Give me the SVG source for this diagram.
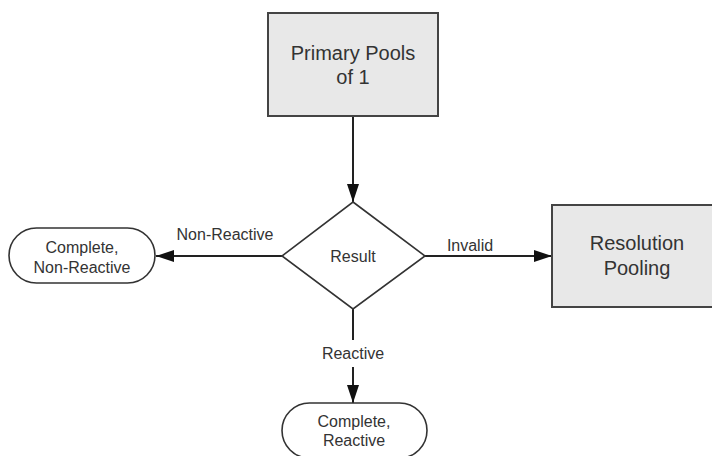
<svg xmlns="http://www.w3.org/2000/svg" width="712" height="456" viewBox="0 0 712 456">
<style>
.box{fill:#e8e8e8;stroke:#444;stroke-width:2}
.term{fill:#fff;stroke:#333;stroke-width:1.6}
.dia{fill:#fff;stroke:#333;stroke-width:1.6}
.line{stroke:#222;stroke-width:2;fill:none}
text{font-family:"Liberation Sans",Arial,sans-serif;fill:#333;text-anchor:middle}
.big{font-size:20px}
.sm{font-size:16px}
</style>
<defs>
<marker id="arr" viewBox="0 0 18 12" refX="18" refY="6" markerWidth="18" markerHeight="12" markerUnits="userSpaceOnUse" orient="auto">
<path d="M0,0 L18,6 L0,12 Z" fill="#111"/>
</marker>
</defs>
<rect width="712" height="456" fill="#fff"/>
<g id="connectors">
<line class="line" x1="353" y1="116" x2="353" y2="202" marker-end="url(#arr)"/>
<line class="line" x1="282" y1="256" x2="156" y2="256" marker-end="url(#arr)"/>
<line class="line" x1="425" y1="256" x2="552" y2="256" marker-end="url(#arr)"/>
<line class="line" x1="353" y1="309" x2="353" y2="340"/>
<line class="line" x1="353" y1="367" x2="353" y2="403" marker-end="url(#arr)"/>
<text class="sm" x="225" y="240">Non-Reactive</text>
<text class="sm" x="470" y="251">Invalid</text>
<text class="sm" x="353" y="359">Reactive</text>
</g>
<g id="primary">
<rect class="box" x="268" y="13" width="170" height="103"/>
<text class="big" x="353" y="60">Primary Pools</text>
<text class="big" x="353" y="84">of 1</text>
</g>
<g id="result">
<polygon class="dia" points="353,202 425,256 353,309 282,256"/>
<text class="sm" x="353" y="262">Result</text>
</g>
<g id="nonreactive">
<rect class="term" x="9" y="228" width="146" height="55" rx="27.5"/>
<text class="sm" x="82" y="253">Complete,</text>
<text class="sm" x="82" y="273">Non-Reactive</text>
</g>
<g id="resolution">
<rect class="box" x="552" y="205" width="170" height="102"/>
<text class="big" x="637" y="250">Resolution</text>
<text class="big" x="637" y="275">Pooling</text>
</g>
<g id="reactive">
<rect class="term" x="282" y="403" width="145" height="55" rx="27.5"/>
<text class="sm" x="354" y="427">Complete,</text>
<text class="sm" x="354" y="446">Reactive</text>
</g>
</svg>
